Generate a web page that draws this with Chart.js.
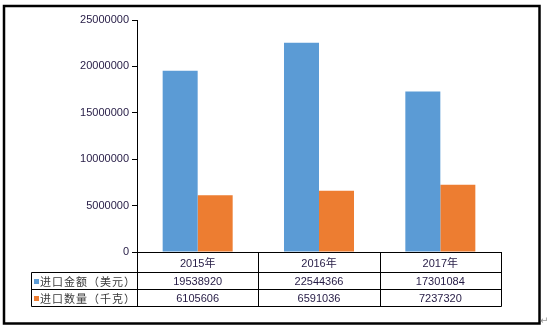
<!DOCTYPE html>
<html lang="zh">
<head>
<meta charset="UTF-8">
<title>进口金额与进口数量</title>
<script src="https://cdn.jsdelivr.net/npm/chart.js"></script>
<style>
    html, body { margin: 0; padding: 0; background: #fff; }
    canvas { display: block; }
</style>
</head>
<body>
<canvas id="grafico" width="549" height="331"></canvas>

<script>
    // dados
    const anos = ['2015年', '2016年', '2017年'];
    const nomesSeries = ['进口金额（美元）', '进口数量（千克）'];
    const valorUSD = [19538920, 22544366, 17301084];
    const quantidadeKg = [6105606, 6591036, 7237320];
    const eixoYMax = 25000000;
    const eixoYPasso = 5000000;

    const cores = ['#5B9BD5', '#ED7D31'];
    const fonteNum = '"Liberation Sans", Arial, sans-serif';
    const fonteCJK = '"Liberation Sans", "Noto Sans CJK SC", sans-serif';
    const corTexto = '#241a44';

    // tabela de dados embaixo do gráfico (estilo Excel)
    const tabelaDados = {
        id: 'tabelaDados',
        beforeDraw(chart) {
            const ctx = chart.ctx;
            ctx.save();
            ctx.fillStyle = '#fff';
            ctx.fillRect(0, 0, chart.width, chart.height);
            ctx.restore();
        },
        afterDraw(chart) {
            const ctx = chart.ctx;
            const area = chart.chartArea;
            const x = chart.scales.x;
            const topo = area.bottom;
            const linha1 = topo + 20;
            const linha2 = linha1 + 17;
            const fim = linha2 + 17;
            const esquerda = 31.5;
            const series = [valorUSD, quantidadeKg];

            ctx.save();
            ctx.strokeStyle = '#000';
            ctx.lineWidth = 1;
            ctx.beginPath();
            // linhas horizontais
            [linha1, linha2, fim].forEach(y => {
                ctx.moveTo(esquerda, Math.round(y) + 0.5);
                ctx.lineTo(Math.round(area.right) + 0.5, Math.round(y) + 0.5);
            });
            // coluna da legenda
            ctx.moveTo(esquerda, Math.round(linha1) + 0.5);
            ctx.lineTo(esquerda, Math.round(fim) + 0.5);
            // divisões entre categorias
            const divs = [area.left];
            for (let i = 0; i < anos.length - 1; i++) {
                divs.push((x.getPixelForValue(i) + x.getPixelForValue(i + 1)) / 2);
            }
            divs.push(area.right);
            divs.forEach(d => {
                ctx.moveTo(Math.round(d) + 0.5, Math.round(topo));
                ctx.lineTo(Math.round(d) + 0.5, Math.round(fim) + 0.5);
            });
            ctx.stroke();

            // legenda + valores
            ctx.textBaseline = 'middle';
            const centros = [(linha1 + linha2) / 2, (linha2 + fim) / 2];
            series.forEach((dados, s) => {
                const cy = centros[s] + 1;
                ctx.fillStyle = cores[s];
                ctx.fillRect(34, Math.round(cy) - 3, 5, 5);
                ctx.fillStyle = '#3a3a3a';
                ctx.font = '11px "Noto Sans CJK SC", sans-serif';
                ctx.textAlign = 'left';
                ctx.letterSpacing = '1px';
                ctx.fillText(nomesSeries[s], 40, cy);
                ctx.letterSpacing = '0px';
                ctx.fillStyle = corTexto;
                ctx.font = '11px ' + fonteNum;
                ctx.textAlign = 'center';
                dados.forEach((v, i) => {
                    ctx.fillText(String(v), x.getPixelForValue(i), cy);
                });
            });

            // moldura externa
            ctx.strokeStyle = '#000';
            ctx.lineWidth = 2.5;
            ctx.strokeRect(4, 6, 535.5, 317.5);

            ctx.fillStyle = '#999';
            ctx.font = '10px "DejaVu Sans", sans-serif';
            ctx.textAlign = 'left';
            ctx.fillText('↵', 540, 321);
            ctx.restore();
        }
    };

    const grafico = new Chart(document.getElementById('grafico'), {
        type: 'bar',
        data: {
            labels: anos,
            datasets: [{
                label: nomesSeries[0],
                data: valorUSD,
                backgroundColor: cores[0],
                borderWidth: 0,
                categoryPercentage: 0.577,
                barPercentage: 1
            }, {
                label: nomesSeries[1],
                data: quantidadeKg,
                backgroundColor: cores[1],
                borderWidth: 0,
                categoryPercentage: 0.577,
                barPercentage: 1
            }]
        },
        options: {
            responsive: false,
            animation: false,
            layout: {
                padding: { left: 0, right: 48, top: 20, bottom: 0 }
            },
            plugins: {
                legend: { display: false },
                title: { display: false },
                tooltip: { enabled: false }
            },
            scales: {
                x: {
                    grid: { drawOnChartArea: false, drawTicks: false },
                    border: { color: '#000', width: 1 },
                    ticks: {
                        color: corTexto,
                        padding: 5,
                        font: { family: fonteCJK, size: 11 }
                    },
                    afterFit(scale) { scale.height = 79; }
                },
                y: {
                    min: 0,
                    max: eixoYMax,
                    grid: { drawOnChartArea: false, drawTicks: true, tickLength: 5, color: '#000' },
                    border: { color: '#000', width: 1 },
                    ticks: {
                        stepSize: eixoYPasso,
                        color: corTexto,
                        padding: 3,
                        font: { family: fonteNum, size: 11 },
                        callback: v => String(v)
                    },
                    afterFit(scale) { scale.width = 137; }
                }
            }
        },
        plugins: [tabelaDados]
    });
</script>
</body>
</html>
